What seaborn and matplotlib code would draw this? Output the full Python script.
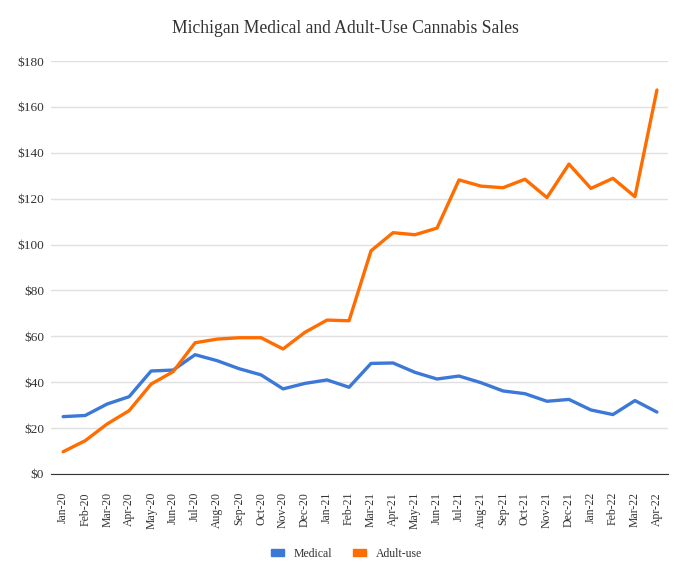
import numpy as np
import pandas as pd
import matplotlib
matplotlib.use("Agg")
import matplotlib.pyplot as plt
import seaborn as sns
from matplotlib.patches import Patch

months = ["Jan-20", "Feb-20", "Mar-20", "Apr-20", "May-20", "Jun-20", "Jul-20",
          "Aug-20", "Sep-20", "Oct-20", "Nov-20", "Dec-20", "Jan-21", "Feb-21",
          "Mar-21", "Apr-21", "May-21", "Jun-21", "Jul-21", "Aug-21", "Sep-21",
          "Oct-21", "Nov-21", "Dec-21", "Jan-22", "Feb-22", "Mar-22", "Apr-22"]
medical = [25.0, 25.5, 30.5, 33.7, 44.9, 45.3, 52.0, 49.4, 45.9, 43.2, 37.1, 39.5,
           41.0, 37.8, 48.2, 48.4, 44.3, 41.4, 42.7, 39.8, 36.2, 35.0, 31.7, 32.5,
           27.9, 25.9, 32.0, 27.0]
adult_use = [9.7, 14.5, 21.8, 27.6, 39.2, 44.6, 57.2, 58.8, 59.4, 59.4, 54.5, 61.8,
             67.1, 66.8, 97.3, 105.2, 104.3, 107.2, 128.2, 125.5, 124.8, 128.5, 120.5,
             135.1, 124.5, 128.9, 120.9, 167.4]

df = pd.DataFrame({"Month": months, "Medical": medical, "Adult-use": adult_use})
long_df = df.melt(id_vars="Month", var_name="Type", value_name="Sales")

colors = {"Medical": "#3C78D8", "Adult-use": "#FF6D01"}

sns.set_style("white")
plt.rcParams["font.family"] = ["Liberation Serif", "DejaVu Serif"]

fig = plt.figure(figsize=(6.9, 5.75), dpi=100)
ax = fig.add_axes([0.074, 0.1757, 0.894, 0.718])

ax.grid(axis="y", color="#e0e0e0", linewidth=1)
ax.set_axisbelow(True)
sns.lineplot(data=long_df, x="Month", y="Sales", hue="Type", palette=colors,
             linewidth=2.4, ax=ax, legend=False, sort=False)

ax.set_xlim(-0.55, 27.5)
ax.set_ylim(0, 180)
ax.set_yticks(range(0, 181, 20))
ax.set_yticklabels(["$" + str(v) for v in range(0, 181, 20)], fontsize=9.5, color="#333333")
ax.set_xticks(range(len(months)))
ax.set_xticklabels(months, rotation=90, fontsize=8.5, color="#333333")
ax.tick_params(axis="x", length=7, width=1, color="#333333", pad=6)
ax.tick_params(axis="y", length=0, pad=5)
ax.set_xlabel("")
ax.set_ylabel("")
for s in ["top", "right", "left"]:
    ax.spines[s].set_visible(False)
ax.spines["bottom"].set_color("#333333")

fig.suptitle("Michigan Medical and Adult-Use Cannabis Sales", y=0.965, fontsize=12.7, color="#333333")

handles = [Patch(color=colors["Medical"], label="Medical"),
           Patch(color=colors["Adult-use"], label="Adult-use")]
fig.legend(handles=handles, loc="center", bbox_to_anchor=(0.502, 0.037), ncol=2,
           frameon=False, fontsize=8.5, handlelength=1.1, handleheight=0.5,
           handletextpad=0.8, columnspacing=1.8, labelcolor="#333333")

fig.savefig("out.png", dpi=100)
